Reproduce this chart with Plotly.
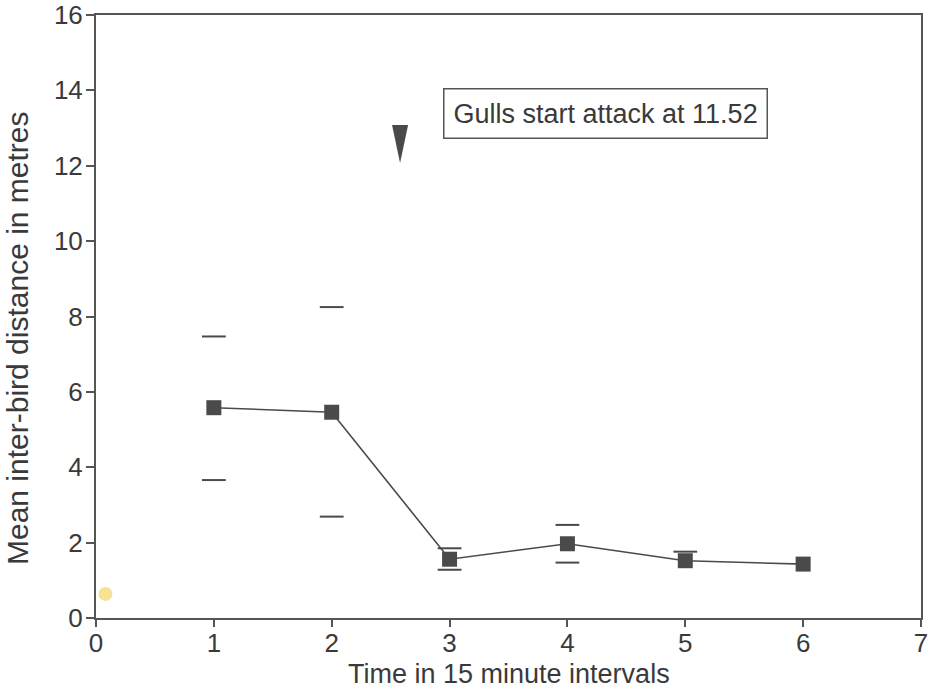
import plotly.graph_objects as go

# Data
intervals = [1, 2, 3, 4, 5, 6]
mean_distance = [5.58, 5.46, 1.56, 1.97, 1.52, 1.43]
upper_bar = [7.47, 8.25, 1.85, 2.47, 1.76, None]
lower_bar = [3.66, 2.69, 1.28, 1.47, None, None]

x_ticks = [0, 1, 2, 3, 4, 5, 6, 7]
y_ticks = [0, 2, 4, 6, 8, 10, 12, 14, 16]

x_title = "Time in 15 minute intervals"
y_title = "Mean inter-bird distance in metres"

attack_label = "Gulls start attack at 11.52"
attack_x = 2.58
attack_top = 13.08
attack_tip = 12.07
attack_halfwidth = 0.068
label_x = 4.32
label_y = 13.38

stain_x = [0.08]
stain_y = [0.64]

FONT = "Liberation Sans, Arial, Helvetica, sans-serif"
INK = "#4a4a4a"
TXT = "#3a3a3a"
AX = "#555555"

fig = go.Figure()

# stain (scanned artefact)
fig.add_trace(go.Scatter(x=stain_x, y=stain_y, mode="markers",
                         marker=dict(symbol="circle", size=14, color="rgba(247,220,125,0.85)"),
                         showlegend=False, hoverinfo="skip", cliponaxis=False))

# error caps
cap_x = []
cap_y = []
for xi, u, l in zip(intervals, upper_bar, lower_bar):
    if u is not None:
        cap_x.append(xi); cap_y.append(u)
    if l is not None:
        cap_x.append(xi); cap_y.append(l)
fig.add_trace(go.Scatter(x=cap_x, y=cap_y, mode="markers",
                         marker=dict(symbol="line-ew", size=17,
                                     line=dict(color=INK, width=2)),
                         showlegend=False, hoverinfo="skip"))

# mean line
fig.add_trace(go.Scatter(x=intervals, y=mean_distance, mode="lines+markers",
                         line=dict(color=INK, width=1.6),
                         marker=dict(symbol="square", size=15, color=INK),
                         showlegend=False))

# attack arrowhead (elongated down triangle)
fig.add_shape(type="path",
              path=f"M {attack_x - attack_halfwidth} {attack_top} L {attack_x + attack_halfwidth} {attack_top} L {attack_x} {attack_tip} Z",
              xref="x", yref="y", fillcolor=INK, line=dict(color=INK, width=0))

fig.add_annotation(x=label_x, y=label_y, xref="x", yref="y", text=attack_label,
                   showarrow=False, font=dict(family=FONT, size=27, color=TXT),
                   bordercolor=AX, borderwidth=1.5, borderpad=9,
                   bgcolor="white", xanchor="center", yanchor="middle")

# axis titles as annotations for exact placement
fig.add_annotation(x=-0.096, y=0.464, xref="paper", yref="paper",
                   text=y_title, textangle=-90,
                   showarrow=False, font=dict(family=FONT, size=30, color=TXT),
                   xanchor="center", yanchor="middle")
fig.add_annotation(x=0.5, y=-0.093, xref="paper", yref="paper",
                   text=x_title, showarrow=False,
                   font=dict(family=FONT, size=27, color=TXT),
                   xanchor="center", yanchor="middle")

fig.update_xaxes(range=[0, 7], tickvals=x_ticks, ticks="outside", ticklen=7,
                 tickwidth=1.5, tickcolor=AX, showline=True, linecolor=AX,
                 linewidth=2, mirror=True, showgrid=False, zeroline=False,
                 automargin=False, ticklabelstandoff=-6,
                 tickfont=dict(family=FONT, size=26, color=TXT))
fig.update_yaxes(range=[0, 16], tickvals=y_ticks, ticks="outside", ticklen=8,
                 tickwidth=1.5, tickcolor=AX, showline=True, linecolor=AX,
                 linewidth=2, mirror=True, showgrid=False, zeroline=False,
                 automargin=False, ticklabelstandoff=-2,
                 tickfont=dict(family=FONT, size=26, color=TXT))

fig.update_layout(width=937, height=690, plot_bgcolor="white", paper_bgcolor="white",
                  margin=dict(l=96, r=16, t=15, b=72), showlegend=False)

fig.write_html("out.html", config={"displayModeBar": False},
               post_script="document.body.style.margin='0';document.body.style.overflow='hidden';")
